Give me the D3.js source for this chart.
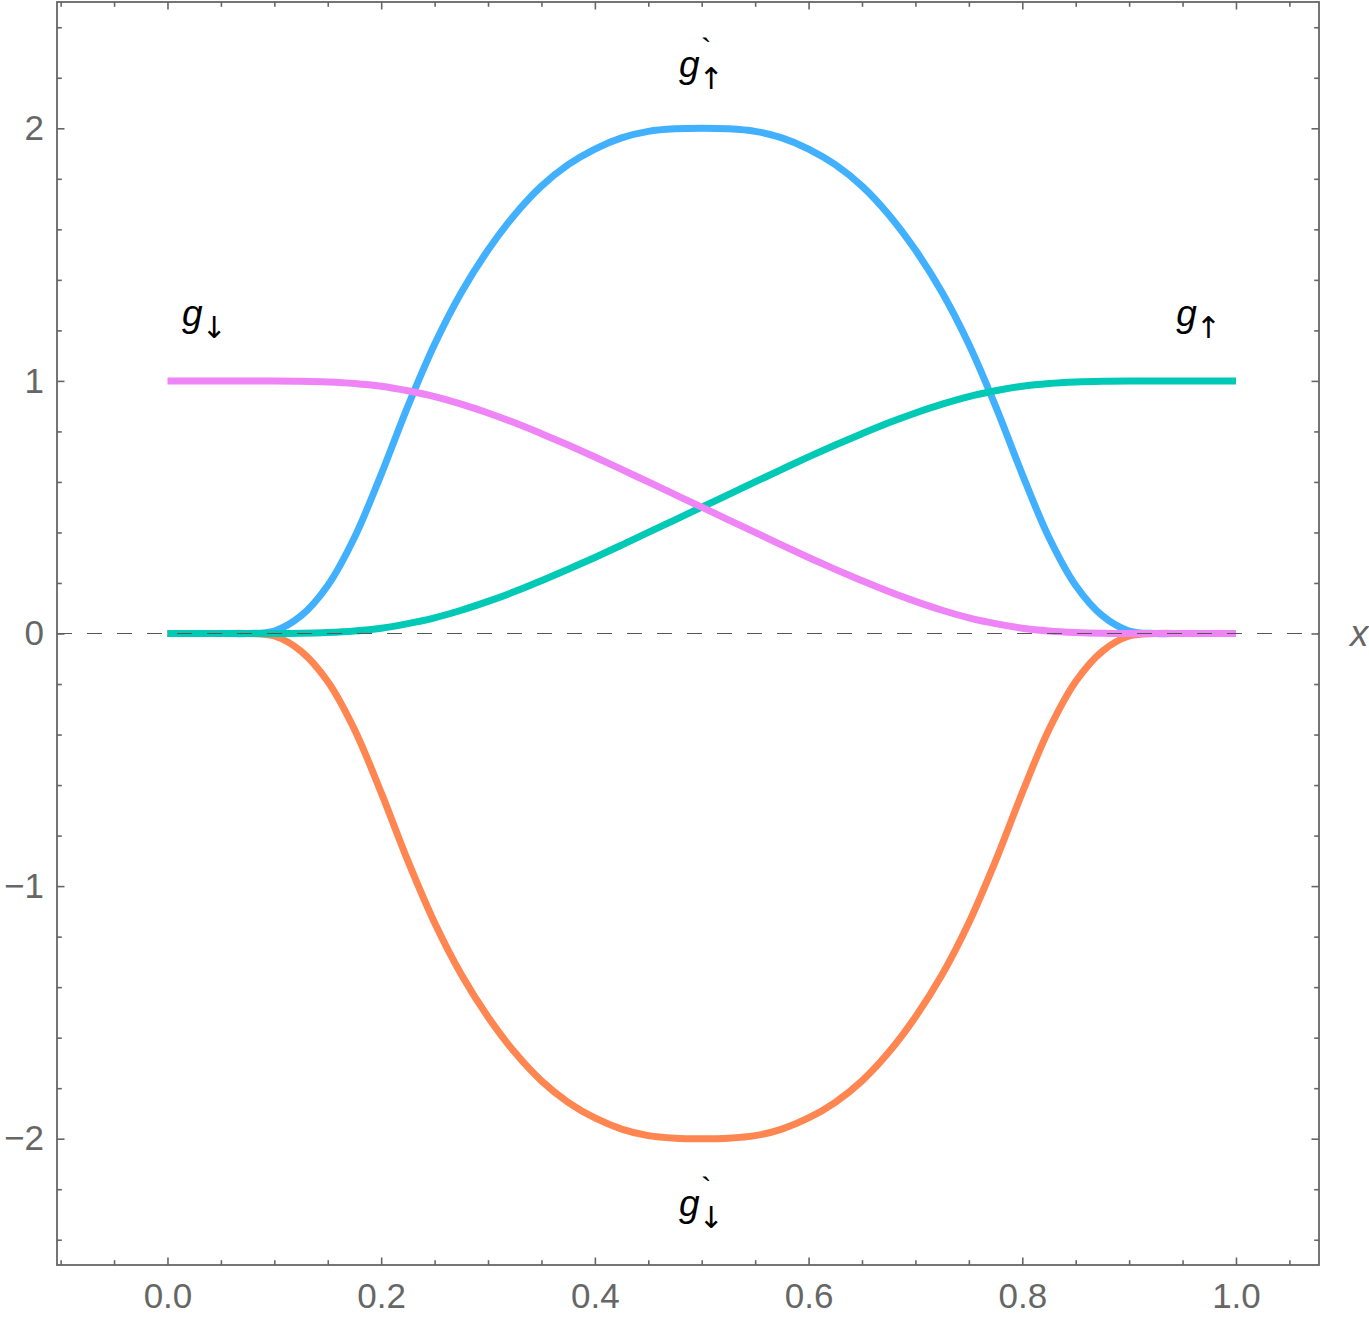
<!DOCTYPE html>
<html>
<head>
<meta charset="utf-8">
<script src="https://cdn.jsdelivr.net/npm/d3@7"></script>
<style>
  html, body { margin: 0; padding: 0; background: #fff; }
  svg { display: block; }
</style>
</head>
<body>
<script>
// ---------- data ----------
const xValues = [0, 0.025, 0.05, 0.075, 0.1, 0.125, 0.15, 0.175, 0.2, 0.225, 0.25, 0.275, 0.3, 0.325, 0.35, 0.375, 0.4, 0.425, 0.45, 0.475, 0.5,
  0.525, 0.55, 0.575, 0.6, 0.625, 0.65, 0.675, 0.7, 0.725, 0.75, 0.775, 0.8, 0.825, 0.85, 0.875, 0.9, 0.925, 0.95, 0.975, 1.0];

// g'↑ (blue)
const dgUp = [0, 0, 0, 0, 0.01, 0.07, 0.19, 0.38, 0.63, 0.9, 1.145, 1.35, 1.518, 1.658, 1.771, 1.856, 1.918, 1.962, 1.988, 1.998, 2.0,
  1.998, 1.988, 1.962, 1.918, 1.856, 1.771, 1.658, 1.518, 1.35, 1.145, 0.9, 0.63, 0.38, 0.19, 0.07, 0.01, 0, 0, 0, 0];

// g'↓ (orange)
const dgDown = [0, 0, 0, 0, -0.01, -0.07, -0.19, -0.38, -0.63, -0.9, -1.145, -1.35, -1.518, -1.658, -1.771, -1.856, -1.918, -1.962, -1.988, -1.998, -2.0,
  -1.998, -1.988, -1.962, -1.918, -1.856, -1.771, -1.658, -1.518, -1.35, -1.145, -0.9, -0.63, -0.38, -0.19, -0.07, -0.01, 0, 0, 0, 0];

// g↑ (green)
const gUp = [0, 0, 0, 0, 0, 0.001, 0.004, 0.01, 0.021, 0.039, 0.062, 0.092, 0.127, 0.166, 0.209, 0.254, 0.301, 0.35, 0.4, 0.45, 0.5,
  0.55, 0.6, 0.65, 0.699, 0.746, 0.791, 0.834, 0.873, 0.908, 0.938, 0.961, 0.979, 0.99, 0.996, 0.999, 1, 1, 1, 1, 1];

// g↓ (pink)
const gDown = [1, 1, 1, 1, 1, 0.999, 0.996, 0.99, 0.979, 0.961, 0.938, 0.908, 0.873, 0.834, 0.791, 0.746, 0.699, 0.65, 0.6, 0.55, 0.5,
  0.45, 0.4, 0.35, 0.301, 0.254, 0.209, 0.166, 0.127, 0.092, 0.062, 0.039, 0.021, 0.01, 0.004, 0.001, 0, 0, 0, 0, 0];

const xMajorTicks = [0, 0.2, 0.4, 0.6, 0.8, 1.0];
const xTickLabels = ["0.0", "0.2", "0.4", "0.6", "0.8", "1.0"];
const xMinorTicks = [-0.1, -0.05, 0.05, 0.1, 0.15, 0.25, 0.3, 0.35, 0.45, 0.5, 0.55, 0.65, 0.7, 0.75, 0.85, 0.9, 0.95, 1.05];
const yMajorTicks = [-2, -1, 0, 1, 2];
const yTickLabels = ["\u22122", "\u22121", "0", "1", "2"];
const yMinorTicks = [-2.4, -2.2, -1.8, -1.6, -1.4, -1.2, -0.8, -0.6, -0.4, -0.2, 0.2, 0.4, 0.6, 0.8, 1.2, 1.4, 1.6, 1.8, 2.2, 2.4];

// curve labels: name, subscript arrow, accent flag, anchor in data coords
const curveLabels = [
  { base: "g", sub: "\u2193", accent: false, x: 0.0136, y: 1.217 },
  { base: "g", sub: "\u2191", accent: false, x: 0.944, y: 1.217 },
  { base: "g", sub: "\u2191", accent: true, x: 0.4787, y: 2.203 },
  { base: "g", sub: "\u2193", accent: true, x: 0.4787, y: -2.307 }
];

const seriesList = [
  { name: "dgUp", values: dgUp, color: "#41b0fe" },
  { name: "dgDown", values: dgDown, color: "#ff8551" },
  { name: "gUp", values: gUp, color: "#00c9b5" },
  { name: "gDown", values: gDown, color: "#ee84f5" }
];

// ---------- layout ----------
const W = 1369, H = 1318;
const frame = { left: 57, right: 1319, top: 2, bottom: 1265 };
const axisColor = "#666666";

const svg = d3.select("body").append("svg").attr("width", W).attr("height", H);

const x = d3.scaleLinear().domain([-0.1034, 1.0777]).range([frame.left, frame.right]);
const y = d3.scaleLinear().domain([-2.5, 2.5]).range([frame.bottom, frame.top]);

// ---------- curves ----------
const line = d3.line()
  .x((d, i) => x(xValues[i]))
  .y(d => y(d))
  .curve(d3.curveCatmullRom.alpha(0.5));

svg.append("g").selectAll("path")
  .data(seriesList)
  .join("path")
  .attr("d", d => line(d.values))
  .attr("fill", "none")
  .attr("stroke", d => d.color)
  .attr("stroke-width", 7)
  .attr("stroke-linejoin", "round");

// zero dashed line (drawn on top)
svg.append("line")
  .attr("x1", frame.left).attr("x2", frame.right)
  .attr("y1", y(0)).attr("y2", y(0))
  .attr("stroke", "#555555").attr("stroke-width", 1.1)
  .attr("stroke-dasharray", "15,15");

// ---------- axes ----------
function styleAxis(g) {
  g.select(".domain").remove();
  g.selectAll(".tick line").attr("stroke", axisColor).attr("stroke-width", 1.6);
  g.selectAll(".tick text")
    .attr("fill", axisColor)
    .style("font-family", "'Liberation Sans', Arial, sans-serif")
    .style("font-size", "35px");
}

// bottom
svg.append("g").attr("transform", `translate(0,${frame.bottom})`)
  .call(d3.axisBottom(x).tickValues(xMajorTicks).tickSize(-7.5).tickPadding(18)
    .tickFormat((d, i) => xTickLabels[i]))
  .call(styleAxis);
svg.append("g").attr("transform", `translate(0,${frame.bottom})`)
  .call(d3.axisBottom(x).tickValues(xMinorTicks).tickSize(-4.8).tickFormat(""))
  .call(styleAxis);
// top
svg.append("g").attr("transform", `translate(0,${frame.top})`)
  .call(d3.axisTop(x).tickValues(xMajorTicks).tickSize(-7.5).tickFormat(""))
  .call(styleAxis);
svg.append("g").attr("transform", `translate(0,${frame.top})`)
  .call(d3.axisTop(x).tickValues(xMinorTicks).tickSize(-4.8).tickFormat(""))
  .call(styleAxis);
// left
svg.append("g").attr("transform", `translate(${frame.left},0)`)
  .call(d3.axisLeft(y).tickValues(yMajorTicks).tickSize(-7.5).tickPadding(13)
    .tickFormat((d, i) => yTickLabels[i]))
  .call(styleAxis);
svg.append("g").attr("transform", `translate(${frame.left},0)`)
  .call(d3.axisLeft(y).tickValues(yMinorTicks).tickSize(-4.8).tickFormat(""))
  .call(styleAxis);
// right
svg.append("g").attr("transform", `translate(${frame.right},0)`)
  .call(d3.axisRight(y).tickValues(yMajorTicks).tickSize(-7.5).tickFormat(""))
  .call(styleAxis);
svg.append("g").attr("transform", `translate(${frame.right},0)`)
  .call(d3.axisRight(y).tickValues(yMinorTicks).tickSize(-4.8).tickFormat(""))
  .call(styleAxis);

// frame
svg.append("rect")
  .attr("x", frame.left).attr("y", frame.top)
  .attr("width", frame.right - frame.left).attr("height", frame.bottom - frame.top)
  .attr("fill", "none").attr("stroke", axisColor).attr("stroke-width", 1.8);

// axis label "x"
svg.append("text")
  .attr("x", frame.right + 31).attr("y", y(0) + 12)
  .attr("fill", axisColor)
  .style("font-family", "'Liberation Sans', Arial, sans-serif")
  .style("font-size", "37px")
  .style("font-style", "italic")
  .text("x");

// ---------- curve labels (one text element each, parts as tspans) ----------
const lab = svg.append("g")
  .style("font-family", "'Liberation Sans', Arial, sans-serif")
  .attr("fill", "#000");

curveLabels.forEach(d => {
  const gx = x(d.x), gy = y(d.y);
  const t = lab.append("text").attr("x", gx).attr("y", gy);
  t.append("tspan")
    .style("font-size", "37px").style("font-style", "italic")
    .text(d.base);
  t.append("tspan")
    .attr("dx", -1).attr("dy", 12)
    .style("font-family", "'DejaVu Sans', sans-serif")
    .style("font-size", "30px")
    .text(d.sub);
  if (d.accent) {
    t.append("tspan")
      .attr("x", gx + 22).attr("y", gy - 16)
      .style("font-size", "32px")
      .text("`");
  }
});
</script>
</body>
</html>
